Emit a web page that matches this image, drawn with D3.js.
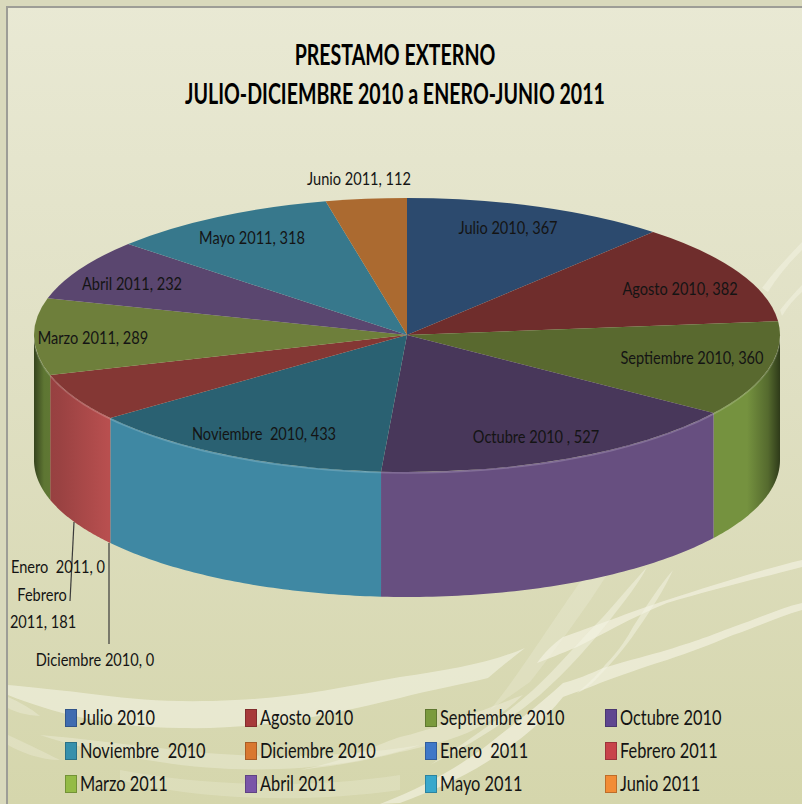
<!DOCTYPE html>
<html>
<head>
<meta charset="utf-8">
<script src="https://d3js.org/d3.v7.min.js"></script>
<style>
html, body { margin: 0; padding: 0; background: #e3e3c8; }
svg { display: block; }
text { font-family: Lato, "Liberation Sans", sans-serif; fill: #141414; }
</style>
</head>
<body>
<div id="viz"></div>
<script>
const months = ["Julio 2010", "Agosto 2010", "Septiembre 2010", "Octubre 2010", "Noviembre  2010", "Diciembre 2010",
    "Enero  2011", "Febrero 2011", "Marzo 2011", "Abril 2011", "Mayo 2011", "Junio 2011"];
const values = [367, 382, 360, 527, 433, 0, 0, 181, 289, 232, 318, 112];
const topColors = ["#2c4a6e", "#6f2d2c", "#59692f", "#48375a", "#2a6172", "#a9682f", "#2c4a6e", "#843734", "#6e7f3b", "#5a466f", "#37788c", "#ab6a30"];
const wallLight = ["#3f6ca0", "#a04342", "#75923f", "#674f80", "#3f88a3", "#d9782f", "#3f6ca0", "#b84f4f", "#75923f", "#7a55a8", "#38a8cc", "#f28c35"];
const legendColors = ["#3f6cb0", "#a73a3a", "#7a9a3d", "#5f4690", "#3690ac", "#d9782f", "#3f78c8", "#c8434a", "#94bb45", "#7a55a8", "#38a8cc", "#f28c35"];
const titleLines = ["PRESTAMO EXTERNO", "JULIO-DICIEMBRE 2010 a ENERO-JUNIO 2011"];

// hand placed labels, same as the manual layout of the original chart
const labelPos = [
    {t: "Julio 2010, 367", x: 508, y: 234},
    {t: "Agosto 2010, 382", x: 680, y: 295},
    {t: "Septiembre 2010, 360", x: 692, y: 364},
    {t: "Octubre 2010 , 527", x: 536, y: 443},
    {t: "Noviembre  2010, 433", x: 264, y: 440},
    {t: "Diciembre 2010, 0", x: 95, y: 666},
    {t: "Enero  2011, 0", x: 58, y: 573},
    {t: "Febrero", x: 42, y: 601},
    {t: "2011, 181", x: 43, y: 628},
    {t: "Marzo 2011, 289", x: 93, y: 344},
    {t: "Abril 2011, 232", x: 132, y: 290},
    {t: "Mayo 2011, 318", x: 252, y: 244},
    {t: "Junio 2011, 112", x: 359, y: 185}
];

var width = 802, height = 804;
var cx = 407, cy = 335, rx = 373, ry = 137, depth = 125;

var svg = d3.select("#viz").append("svg")
    .attr("width", width)
    .attr("height", height);

var defs = svg.append("defs");

var bg = defs.append("linearGradient").attr("id", "bg").attr("x1", 0).attr("y1", 0).attr("x2", 0).attr("y2", 1);
bg.append("stop").attr("offset", "0%").attr("stop-color", "#e9e9d4");
bg.append("stop").attr("offset", "45%").attr("stop-color", "#e0e0c4");
bg.append("stop").attr("offset", "100%").attr("stop-color", "#d5d6ac");

svg.append("rect").attr("width", width).attr("height", height).attr("fill", "url(#bg)");

// light swooshes of the slide background
var swooshes = [
    {o: 0.6, d: "M525,648 C490,663 450,670 400,677 C340,688 290,698 235,700 C180,703 140,700 100,695 C60,690 30,687 8,685 L8,695 C50,712 110,728 180,728 C270,730 340,712 400,698 C430,690 465,684 488,678 C500,668 512,658 525,648 Z"},
    {o: 0.65, d: "M537,663 C545,652 553,644 563,637 C590,628 630,612 667,600 C710,586 760,570 802,560 L802,567 C760,578 710,590 667,603 C630,618 600,636 577,647 C560,654 548,659 537,663 Z"},
    {o: 0.65, d: "M563,683 C575,680 590,674 603,668 C630,660 650,655 667,650 C700,640 720,632 733,627 C760,618 780,608 802,603 L802,610 C780,616 760,626 733,635 C710,645 690,652 667,660 C640,668 620,676 600,683 C590,688 575,692 563,697 C540,725 520,740 500,753 C470,775 435,790 400,803 L380,804 C430,785 470,760 500,735 C530,712 550,695 563,683 Z"},
    {o: 0.4, d: "M400,737 C430,730 470,715 523,695 C505,712 490,722 467,733 C445,742 420,748 400,752 C370,760 340,765 300,770 C350,760 375,745 400,737 Z"},
    {o: 0.5, d: "M533,690 C555,670 580,640 603,617 C620,598 635,580 647,567 C640,582 625,600 610,620 C590,645 570,668 540,695 C510,720 470,745 430,765 C470,740 505,715 533,690 Z"},
    {o: 0.5, d: "M577,693 C590,682 600,672 605,665 C620,650 628,636 633,627 C645,608 660,585 673,570 C665,588 650,612 637,630 C625,648 610,665 600,675 C592,684 585,690 577,693 Z"},
    {o: 0.25, d: "M490,710 C515,680 540,640 580,582 L610,570 C585,610 555,650 530,682 Z"},
    {o: 0.35, d: "M160,748 C230,758 330,760 420,745 C340,772 240,775 160,762 C110,755 70,745 40,735 C80,738 120,744 160,748 Z"},
    {o: 0.3, d: "M8,735 C30,745 50,755 60,760 C40,760 20,752 8,745 Z"},
    {o: 0.35, d: "M8,697 C20,702 30,708 40,716 C25,715 15,712 8,708 Z"},
    {o: 0.25, d: "M120,770 C200,785 300,790 400,775 L400,790 C300,804 200,800 120,780 Z"},
    {o: 0.5, d: "M762,288 C775,270 790,255 802,242 L802,250 C790,262 778,276 768,292 Z"},
    {o: 0.5, d: "M780,310 C788,300 795,292 802,285 L802,292 C795,298 788,306 782,316 Z"}
];
svg.selectAll(".swoosh").data(swooshes).enter().append("path")
    .attr("class", "swoosh")
    .attr("d", function(d) { return d.d; })
    .attr("fill", "#f4f3e4")
    .attr("opacity", function(d) { return d.o; });

// strip outside the frame line is a bit darker
svg.append("path").attr("d", "M0,0 H802 V7 H7 V804 H0 Z").attr("fill", "#d9d9bc");
svg.append("path")
    .attr("d", "M7,804 V7 H802")
    .attr("fill", "none")
    .attr("stroke", "#9d9d96")
    .attr("stroke-width", 2);

var pie = d3.pie().sort(null).value(function(d) { return d; });
var slices = pie(values);

// wall of the cylinder, only the front half (90 to 270 degrees) is seen
function ellipsePoint(a, dy) {
    return [cx + rx * Math.sin(a), cy - ry * Math.cos(a) + dy];
}
var line = d3.line();
function wallPath(a0, a1) {
    var n = 60;
    var upper = d3.range(n + 1).map(function(i) { return ellipsePoint(a0 + (a1 - a0) * i / n, 0); });
    var lower = d3.range(n + 1).map(function(i) { return ellipsePoint(a1 + (a0 - a1) * i / n, depth); });
    return line(upper.concat(lower)) + "Z";
}

var front0 = Math.PI / 2, front1 = Math.PI * 1.5;
var walls = slices.map(function(s, i) {
    return {i: i, a0: Math.max(s.startAngle, front0), a1: Math.min(s.endAngle, front1)};
}).filter(function(w) { return w.a1 > w.a0; });

// same shading for the whole wall: dark at both ends of the cylinder
var shade = [[33, 2.2], [44, 0.6], [60, 0.5], [108, 0], [747, 0], [768, 0.9], [780, 2.6]];
walls.forEach(function(w) {
    var c = wallLight[w.i];
    var g = defs.append("linearGradient").attr("id", "wall" + w.i)
        .attr("gradientUnits", "userSpaceOnUse")
        .attr("x1", cx - rx).attr("x2", cx + rx)
        .attr("y1", 0).attr("y2", 0);
    shade.forEach(function(s) {
        g.append("stop")
            .attr("offset", (s[0] - (cx - rx)) / (2 * rx))
            .attr("stop-color", d3.color(c).darker(s[1]).formatHex());
    });
    svg.append("path")
        .attr("d", wallPath(w.a0, w.a1))
        .attr("fill", "url(#wall" + w.i + ")");
});

// thin highlight on the rim of the front
svg.append("path")
    .attr("d", line(d3.range(61).map(function(i) { return ellipsePoint(front0 + (front1 - front0) * i / 60, 1); })))
    .attr("fill", "none")
    .attr("stroke", "#ffffff")
    .attr("stroke-opacity", 0.18)
    .attr("stroke-width", 1.5);

// top face: d3.arc on a circle squashed into the ellipse
var arc = d3.arc().innerRadius(0).outerRadius(rx);
svg.append("g")
    .attr("transform", "translate(" + cx + "," + cy + ") scale(1," + (ry / rx) + ")")
    .selectAll("path")
    .data(slices.filter(function(s) { return s.value > 0; }))
    .enter().append("path")
    .attr("d", arc)
    .attr("fill", function(d) { return topColors[d.index]; });

// leader lines
svg.append("line").attr("x1", 74).attr("y1", 522).attr("x2", 70).attr("y2", 601).attr("stroke", "#3a3a3a").attr("stroke-width", 1.2);
svg.append("line").attr("x1", 109).attr("y1", 543).attr("x2", 109).attr("y2", 644).attr("stroke", "#3a3a3a").attr("stroke-width", 1.2);

// Lato is wider than the original font, so squeeze it horizontally
var labelScale = 0.81, titleScale = 0.70, legendScale = 0.78;

svg.selectAll(".lab").data(labelPos).enter().append("text")
    .attr("class", "lab")
    .attr("transform", function(d) { return "translate(" + d.x + "," + d.y + ") scale(" + labelScale + ",1)"; })
    .attr("text-anchor", "middle")
    .attr("font-size", 18)
    .style("white-space", "pre")
    .text(function(d) { return d.t; });

svg.selectAll(".title").data(titleLines).enter().append("text")
    .attr("class", "title")
    .attr("transform", function(d, i) { return "translate(395," + (65 + i * 39) + ") scale(" + titleScale + ",1)"; })
    .attr("text-anchor", "middle")
    .attr("font-size", 28)
    .attr("font-weight", "bold")
    .style("fill", "#000")
    .text(function(d) { return d; });

// legend, 4 columns
var legendX = d3.scalePoint().domain(d3.range(4)).range([65, 605]);
var legendY = d3.scalePoint().domain(d3.range(3)).range([709, 775]);
var legend = svg.selectAll(".legend").data(months).enter().append("g")
    .attr("class", "legend")
    .attr("transform", function(d, i) { return "translate(" + legendX(i % 4) + "," + legendY(Math.floor(i / 4)) + ")"; });
legend.append("rect")
    .attr("x", 0.5).attr("y", 0.5)
    .attr("width", 11).attr("height", 17)
    .attr("fill", function(d, i) { return legendColors[i]; })
    .attr("stroke", function(d, i) { return d3.color(legendColors[i]).darker(0.7).formatHex(); });
legend.append("text")
    .attr("transform", "translate(15,16) scale(" + legendScale + ",1)")
    .attr("font-size", 21)
    .style("white-space", "pre")
    .text(function(d) { return d; });
</script>
</body>
</html>
